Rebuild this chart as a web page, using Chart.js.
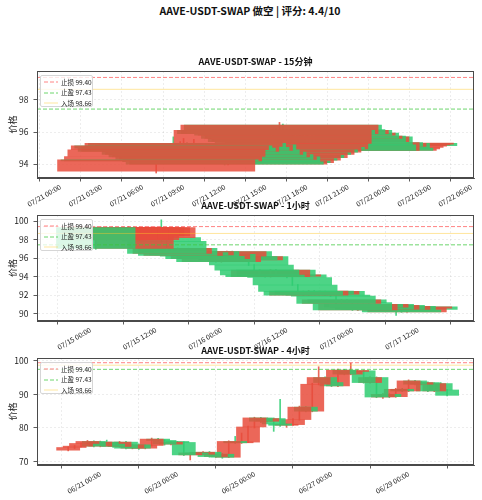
<!DOCTYPE html>
<html><head><meta charset="utf-8"><title>AAVE-USDT-SWAP</title>
<script src="https://cdn.jsdelivr.net/npm/chart.js@4.4.1/dist/chart.umd.min.js"></script>
<style>
html,body{margin:0;padding:0;background:#fff;}
#fig{position:relative;width:482px;height:500px;overflow:hidden;font-family:"Noto Sans CJK SC","DejaVu Sans",sans-serif;}
#fig canvas{position:absolute;left:0;}
.t{position:absolute;text-align:center;font-weight:bold;color:#111;white-space:nowrap;}
.lg{position:absolute;left:40px;width:53px;height:32px;background:rgba(255,255,255,0.8);border:1px solid #d6d6d6;border-radius:2px;box-sizing:border-box;font-size:6.5px;color:#222;}
.lg div{position:absolute;left:2px;height:9px;line-height:9px;white-space:nowrap;}
.lg svg{position:absolute;left:1px;top:2.5px;}
.lg span{position:absolute;left:18px;top:0;}
</style></head>
<body><div id="fig"></div>
<script>
// ---------- data ----------
const YEAR = 2025;
const mainTitle = 'AAVE-USDT-SWAP 做空 | 评分: 4.4/10';
const panelTitles = ['AAVE-USDT-SWAP - 15分钟', 'AAVE-USDT-SWAP - 1小时', 'AAVE-USDT-SWAP - 4小时'];
const yAxisLabel = '价格';
const stopLoss = 99.40, takeProfit = 97.43, entryPrice = 98.66;

// 15 minute candles (start 07/21 07:00, every 15 min)
const start15 = '07/21 07:00', step15 = 15;
const open15 = [93.56,94.27,94.20,94.48,94.90,95.15,95.00,94.80,95.10,95.30,95.05,94.85,95.20,94.90,94.60,94.75,94.45,94.60,94.30,94.45,94.15,94.00,94.20,94.10,94.35,94.25,94.55,94.40,94.70,94.60,94.90,94.75,95.05,94.95,95.30,96.10,95.90,96.44,96.15,95.90,96.10,95.80,95.94,95.60,95.75,95.40,95.70,95.20,94.85,95.35,95.10,95.30,95.00,94.85,94.95,95.05,95.12,95.20,95.25,95.30];
const high15 = [94.35,94.32,94.55,94.98,95.25,95.70,95.10,95.40,95.60,95.35,95.10,95.55,95.25,95.00,95.30,94.80,94.90,94.65,94.50,94.50,94.20,94.25,94.25,94.40,94.45,94.60,94.60,94.75,95.05,94.95,95.00,95.10,95.10,95.35,96.20,96.25,96.60,96.50,96.20,96.15,96.15,96.00,96.00,95.80,95.80,95.75,95.75,95.25,95.40,95.40,95.35,95.35,95.05,95.00,95.08,95.15,95.22,95.28,95.32,95.33];
const low15 = [93.45,94.12,94.15,94.40,94.85,94.95,94.70,94.75,95.00,94.60,94.75,94.80,94.85,94.50,94.55,94.40,94.35,94.25,94.15,94.10,93.95,93.95,94.05,94.05,94.20,94.20,94.35,94.35,94.55,94.55,94.70,94.70,94.90,94.90,95.25,95.85,95.85,96.10,95.85,95.85,95.75,95.75,95.55,95.55,95.35,95.35,95.15,94.80,94.80,95.05,95.05,94.95,94.85,94.80,94.90,95.00,95.08,95.15,95.20,95.12];
const close15 = [94.27,94.20,94.48,94.90,95.15,95.00,94.80,95.10,95.30,95.05,94.85,95.20,94.90,94.60,94.75,94.45,94.60,94.30,94.45,94.15,94.00,94.20,94.10,94.35,94.25,94.55,94.40,94.70,94.60,94.90,94.75,95.05,94.95,95.30,96.10,95.90,96.44,96.15,95.90,96.10,95.80,95.94,95.60,95.75,95.40,95.70,95.20,94.85,95.35,95.10,95.30,95.00,94.85,94.95,95.05,95.12,95.20,95.25,95.30,95.15];
const xTicks15 = ['07/21 00:00','07/21 03:00','07/21 06:00','07/21 09:00','07/21 12:00','07/21 15:00','07/21 18:00','07/21 21:00','07/22 00:00','07/22 03:00','07/22 06:00'];
const yTicks15 = [94, 96, 98];
const xView15 = ['07/20 22:18', '07/22 06:12'];
const yView15 = [93.14, 99.8];

// 1 hour candles (start 07/15 01:00, every 60 min)
const start1h = '07/15 01:00', step1h = 60;
const open1h = [99.28,98.67,97.95,98.70,98.10,98.60,98.00,97.05,98.00,98.40,98.40,98.20,98.20,97.80,96.50,97.05,96.30,96.60,96.35,96.70,96.20,95.95,96.40,95.60,96.20,96.70,96.15,95.80,96.15,95.25,94.70,94.17,94.00,94.70,94.05,94.20,93.90,93.10,92.40,92.00,92.45,92.10,92.40,92.00,91.90,91.10,91.50,91.20,90.40,91.00,90.70,91.00,90.50,90.90,90.45,90.80,90.40,90.20,90.60,90.75];
const high1h = [99.35,99.35,99.35,99.35,99.30,99.35,99.40,99.35,99.35,99.35,99.35,99.35,100.13,97.90,97.10,97.10,96.70,96.65,96.75,96.75,96.25,96.45,96.45,96.25,96.75,96.75,96.20,96.20,96.20,95.30,94.75,94.25,94.75,94.75,94.25,94.25,93.95,93.15,92.45,92.50,92.50,92.45,92.45,92.05,91.95,91.55,91.55,91.25,91.05,91.05,91.05,91.05,90.95,90.95,90.85,90.85,90.45,90.65,90.80,90.80];
const low1h = [96.95,98.60,97.90,98.60,98.00,98.50,97.90,97.00,97.90,98.30,98.30,98.10,97.70,96.40,96.45,96.25,96.25,96.30,96.30,96.15,95.90,95.90,95.55,95.55,96.15,96.10,95.75,95.75,95.20,94.65,94.10,93.95,93.95,94.00,94.00,93.85,93.05,92.35,91.95,91.95,92.05,92.05,91.95,91.85,91.05,91.05,91.15,90.35,90.35,90.65,90.65,90.45,90.45,90.40,90.40,89.80,90.15,90.15,90.55,90.40];
const close1h = [97.05,99.28,99.25,99.28,99.20,99.28,99.28,99.28,99.25,99.28,99.28,99.28,97.80,96.50,97.05,96.30,96.60,96.35,96.70,96.20,95.95,96.40,95.60,96.20,96.70,96.15,95.80,96.15,95.25,94.70,94.17,94.00,94.70,94.05,94.20,93.90,93.10,92.40,92.00,92.45,92.10,92.40,92.00,91.90,91.10,91.50,91.20,90.40,91.00,90.70,91.00,90.50,90.90,90.45,90.80,90.40,90.20,90.60,90.75,90.45];
const xTicks1h = ['07/15 00:00','07/15 12:00','07/16 00:00','07/16 12:00','07/17 00:00','07/17 12:00'];
const yTicks1h = [90, 92, 94, 96, 98, 100];
const xView1h = ['07/14 14:14', '07/17 22:16'];
const yView1h = [89.21, 100.65];

// 4 hour candles (start 06/20 04:00, every 240 min)
const start4h = '06/20 04:00', step4h = 240;
const open4h = [73.40,74.20,74.60,75.40,76.00,74.60,75.80,75.20,74.50,75.80,74.00,75.00,74.00,74.80,76.70,76.30,75.20,75.80,75.70,72.00,72.60,72.20,72.80,71.50,72.20,71.30,76.00,75.60,75.80,80.30,83.00,82.00,82.80,81.20,80.80,81.00,82.50,86.20,85.00,93.00,95.00,93.50,92.50,97.20,96.00,96.80,97.00,93.50,95.00,89.20,90.00,89.30,91.50,91.00,94.00,93.00,93.50,91.00,93.20,91.30];
const high4h = [74.40,74.80,75.60,76.30,76.20,76.10,76.40,75.60,76.00,76.00,75.20,75.30,75.00,77.00,76.90,76.50,76.00,76.00,75.90,72.80,72.80,73.00,73.00,72.40,72.40,76.20,77.50,78.50,80.60,83.20,83.20,83.00,83.00,88.50,81.30,82.80,86.50,86.40,93.30,98.20,95.20,93.80,97.50,97.40,99.30,97.30,97.20,95.30,95.20,90.30,90.20,91.80,91.80,94.30,94.20,93.80,93.70,93.40,93.50,91.50];
const low4h = [73.20,73.90,74.40,75.20,74.40,74.40,75.00,74.20,74.30,73.80,73.80,73.60,73.80,74.60,76.00,74.90,75.00,75.50,71.80,70.50,72.00,72.00,71.30,71.20,71.00,71.20,75.40,75.40,75.60,80.00,81.60,81.80,79.00,80.50,80.20,80.80,82.30,84.80,84.80,92.80,93.20,92.30,92.30,95.80,95.80,96.50,93.30,93.30,89.00,88.80,89.00,89.10,90.80,90.80,92.80,92.80,90.80,90.80,91.10,89.50];
const close4h = [74.20,74.60,75.40,76.00,74.60,75.80,75.20,74.50,75.80,74.00,75.00,74.00,74.80,76.70,76.30,75.20,75.80,75.70,72.00,72.60,72.20,72.80,71.50,72.20,71.30,76.00,75.60,75.80,80.30,83.00,82.00,82.80,81.20,80.80,81.00,82.50,86.20,85.00,93.00,95.00,93.50,92.50,97.20,96.00,96.80,97.00,93.50,95.00,89.20,90.00,89.30,91.50,91.00,94.00,93.00,93.50,91.00,93.20,91.30,89.70];
const xTicks4h = ['06/21 00:00','06/23 00:00','06/25 00:00','06/27 00:00','06/29 00:00'];
const yTicks4h = [70, 80, 90, 100];
const xView4h = ['06/19 08:35', '06/30 16:44'];
const yView4h = [69.0, 100.8];

// ---------- styling / layout ----------
const FONT = "'Noto Sans CJK SC','DejaVu Sans',sans-serif";
const UP = 'rgba(231,76,60,0.85)', DOWN = 'rgba(46,204,113,0.85)';
const UPW = 'rgba(231,76,60,0.85)', DOWNW = 'rgba(46,204,113,0.85)';
const BODY_DAYS = 0.6;
const plotBoxes = [{top:71,bottom:178,title:61.7},{top:215,bottom:321,title:205.7},{top:358,bottom:465,title:350}];
const PLOT_LEFT = 37, PLOT_RIGHT = 474, PAD_TOP = 4, XAXIS_H = 48;

function parseT(s){const m=s.match(/(\d+)\/(\d+) (\d+):(\d+)/);return Date.UTC(YEAR,+m[1]-1,+m[2],+m[3],+m[4]);}
function fmt(v){const d=new Date(v);const p=n=>String(n).padStart(2,'0');return p(d.getUTCMonth()+1)+'/'+p(d.getUTCDate())+' '+p(d.getUTCHours())+':'+p(d.getUTCMinutes());}

const framePlugin = {id:'frame', afterDatasetsDraw(c){const a=c.chartArea,x=c.ctx;x.save();x.strokeStyle='#4a4a4a';x.lineWidth=1;x.strokeRect(a.left+0.5,a.top+0.5,a.right-a.left-1,a.bottom-a.top-1);x.restore();}};

const fig = document.getElementById('fig');
const tt = document.createElement('div');
tt.className='t'; tt.style.cssText='left:0;width:500px;top:4px;font-size:10.5px;line-height:13px;';
tt.textContent = mainTitle; fig.appendChild(tt);

const panels = [
  {start:start15, step:step15, O:open15, H:high15, L:low15, C:close15, xt:xTicks15, yt:yTicks15, xv:xView15, yv:yView15},
  {start:start1h, step:step1h, O:open1h, H:high1h, L:low1h, C:close1h, xt:xTicks1h, yt:yTicks1h, xv:xView1h, yv:yView1h},
  {start:start4h, step:step4h, O:open4h, H:high4h, L:low4h, C:close4h, xt:xTicks4h, yt:yTicks4h, xv:xView4h, yv:yView4h}
];

const legendItems = [
  {label:'止损 ' + stopLoss.toFixed(2), color:'rgba(255,80,80,0.7)', dash:[4,2]},
  {label:'止盈 ' + takeProfit.toFixed(2), color:'rgba(60,200,60,0.75)', dash:[4,2]},
  {label:'入场 ' + entryPrice.toFixed(2), color:'rgba(255,200,40,0.45)', dash:[]}
];
const lineValues = [stopLoss, takeProfit, entryPrice];

panels.forEach((p, k) => {
  const box = plotBoxes[k];
  const cv = document.createElement('canvas');
  const h = (box.bottom - box.top) + PAD_TOP + XAXIS_H;
  cv.width = 482; cv.height = h; cv.style.top = (box.top - PAD_TOP) + 'px';
  fig.appendChild(cv);

  const t0 = parseT(p.start);
  const n = p.O.length;
  const times = p.O.map((_, i) => t0 + i * p.step * 60000);
  const order = times.map((_, i) => n - 1 - i); // newest drawn first, oldest on top
  const bodies = order.map(i => ({x: times[i], y: [p.O[i], p.C[i]], up: p.C[i] >= p.O[i]}));
  const wicks = order.map(i => ({x: times[i], y: [p.L[i], p.H[i]], up: p.C[i] >= p.O[i]}));
  const xmin = parseT(p.xv[0]), xmax = parseT(p.xv[1]);
  const xt = p.xt.map(parseT);

  const lineSets = lineValues.map((v, j) => ({
    type:'line', data:[{x:xmin,y:v},{x:xmax,y:v}], borderColor:legendItems[j].color,
    borderDash:legendItems[j].dash, borderWidth:1, pointRadius:0, fill:false, order:0
  }));

  const chart = new Chart(cv, {
    type:'bar',
    data:{datasets:[
      {type:'bar', data:wicks, order:3, grouped:false, barThickness:1, borderWidth:0,
       backgroundColor: c => (c.raw && c.raw.up) ? UPW : DOWNW},
      {type:'bar', data:bodies, order:2, grouped:false, barThickness:10, minBarLength:1, borderWidth:0,
       backgroundColor: c => (c.raw && c.raw.up) ? UP : DOWN},
      ...lineSets
    ]},
    options:{
      responsive:false, animation:false, devicePixelRatio:1, events:[],
      layout:{padding:{top:PAD_TOP, right:482-PLOT_RIGHT, bottom:0, left:0}},
      plugins:{legend:{display:false}, tooltip:{enabled:false}, title:{display:false}},
      scales:{
        x:{type:'linear', min:xmin, max:xmax, offset:false,
           afterFit:s=>{s.height=XAXIS_H; s.paddingLeft=0; s.paddingRight=0;},
           afterBuildTicks:s=>{s.ticks = xt.map(v=>({value:v}));},
           ticks:{autoSkip:false, maxRotation:30, minRotation:30, padding:1, color:'#222',
                  font:{size:7, family:FONT}, callback:v=>fmt(v)},
           grid:{color:'rgba(0,0,0,0.09)', lineWidth:0.8, tickColor:'#333', tickLength:3.5, drawTicks:true},
           border:{display:true, color:'#4a4a4a', width:1, dash:[2,2]}},
        y:{type:'linear', min:p.yv[0], max:p.yv[1],
           afterFit:s=>{s.width=PLOT_LEFT; s.paddingTop=0; s.paddingBottom=0;},
           afterBuildTicks:s=>{s.ticks = p.yt.map(v=>({value:v}));},
           ticks:{padding:5, color:'#222', font:{size:8.5, family:FONT}},
           grid:{color:'rgba(0,0,0,0.09)', lineWidth:0.8, tickColor:'#333', tickLength:3.5, drawTicks:true},
           border:{display:true, color:'#4a4a4a', width:1, dash:[2,2]},
           title:{display:true, text:yAxisLabel, color:'#222', font:{size:9, family:FONT}, padding:{top:7, bottom:2}}}
      }
    },
    plugins:[framePlugin]
  });
  const xs = chart.scales.x;
  chart.data.datasets[1].barThickness = Math.abs(xs.getPixelForValue(times[0] + BODY_DAYS*864e5) - xs.getPixelForValue(times[0]));
  chart.update();

  const ti = document.createElement('div');
  ti.className='t';
  ti.style.cssText = 'left:'+PLOT_LEFT+'px;width:'+(PLOT_RIGHT-PLOT_LEFT)+'px;top:'+(box.title-5.5)+'px;font-size:9px;line-height:11px;';
  ti.textContent = panelTitles[k];
  fig.appendChild(ti);

  const lg = document.createElement('div');
  lg.className='lg'; lg.style.top = (box.top + 3.5) + 'px';
  legendItems.forEach((it, j) => {
    const row = document.createElement('div');
    row.style.top = (2 + j*10.5) + 'px';
    const svg = '<svg width="14" height="4"><line x1="0" y1="2" x2="14" y2="2" stroke="'+it.color+'" stroke-width="1"'+(it.dash.length?' stroke-dasharray="'+it.dash.join(',')+'"':'')+'/></svg>';
    row.innerHTML = svg + '<span></span>';
    row.querySelector('span').textContent = it.label;
    lg.appendChild(row);
  });
  fig.appendChild(lg);
});
</script>
</body></html>
